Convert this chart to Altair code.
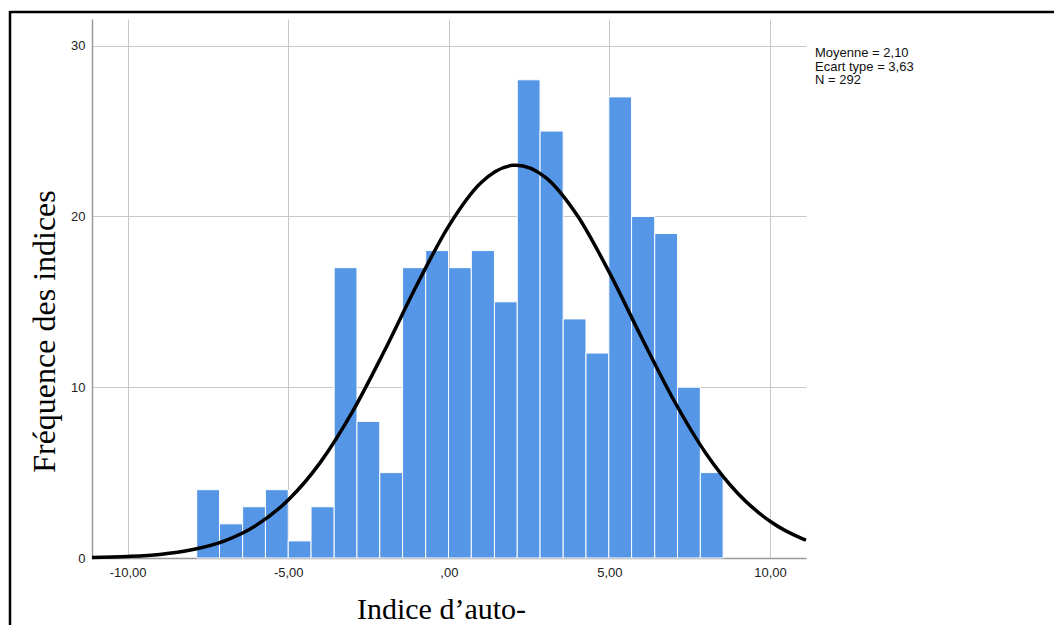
import altair as alt
import pandas as pd

# Histogram bins (left/right edges) and counts
bin_edges = [-7.85, -7.14, -6.42, -5.71, -5.00, -4.29, -3.57, -2.86, -2.15, -1.44,
             -0.72, -0.01, 0.70, 1.42, 2.13, 2.84, 3.56, 4.27, 4.98, 5.69, 6.41,
             7.12, 7.83, 8.54]
counts = [4, 2, 3, 4, 1, 3, 17, 8, 5, 17, 18, 17, 18, 15, 28, 25, 14, 12, 27, 20, 19, 10, 5]

# Normal curve overlay
curve_x = [-11.11, -10, -9, -8, -7, -6, -5, -4, -3, -2, -1, 0, 1, 2, 2.1, 3, 4, 5,
           6, 7, 8, 9, 10, 11, 11.12]
curve_y = [0.03, 0.09, 0.21, 0.48, 0.99, 1.91, 3.40, 5.60, 8.57, 12.15, 15.97, 19.45,
           21.97, 22.99, 23.0, 22.3, 20.05, 16.71, 12.91, 9.25, 6.14, 3.78, 2.15, 1.14, 1.05]

x_tick_values = [-10, -5, 0, 5, 10]
x_tick_labels = ["-10,00", "-5,00", ",00", "5,00", "10,00"]
y_tick_values = [0, 10, 20, 30]

legend_lines = ["Moyenne = 2,10", "Ecart type = 3,63", "N = 292"]
x_title = "Indice d\u2019auto-"
y_title = "Fréquence des indices"

bars_df = pd.DataFrame({
    "start": bin_edges[:-1],
    "end": bin_edges[1:],
    "count": counts,
})
curve_df = pd.DataFrame({"x": curve_x, "y": curve_y})

label_expr = "''"
for v, l in reversed(list(zip(x_tick_values, x_tick_labels))):
    label_expr = f"datum.value == {v} ? '{l}' : ({label_expr})"

x_scale = alt.Scale(domain=[-11.11, 11.12], nice=False, zero=False)
y_scale = alt.Scale(domain=[0, 31.56], nice=False, zero=True)

x_axis = alt.Axis(
    values=x_tick_values, labelExpr=label_expr, ticks=False, grid=True,
    gridColor="#c8c8c8", gridWidth=1, domainColor="#9a9a9a", domainWidth=1.5,
    labelFont="Liberation Sans", labelFontSize=13, labelColor="#222222",
    labelPadding=8, title=x_title, titleFont="Liberation Serif", titleFontSize=30,
    titleFontWeight="normal", titleColor="#000000", titleX=349, titleY=60,
    titleAlign="center", titleBaseline="alphabetic",
)
y_axis = alt.Axis(
    values=y_tick_values, ticks=False, grid=True, gridColor="#c8c8c8", gridWidth=1,
    domainColor="#9a9a9a", domainWidth=1.5, labelFont="Liberation Sans",
    labelFontSize=13, labelColor="#222222", labelPadding=7, format="d",
    title=y_title, titleFont="Liberation Serif", titleFontSize=32,
    titleFontWeight="normal", titleColor="#000000", titleAngle=270,
    titleX=-48, titleY=312, titleAlign="center", titleBaseline="middle",
)

bars = alt.Chart(bars_df).mark_rect(
    color="#5596E6", stroke="#ffffff", strokeWidth=1
).encode(
    x=alt.X("start:Q", scale=x_scale, axis=x_axis),
    x2="end:Q",
    y=alt.Y("count:Q", scale=y_scale, axis=y_axis),
    y2=alt.datum(0),
)

curve = alt.Chart(curve_df).mark_line(
    color="#000000", strokeWidth=3.5, interpolate="monotone"
).encode(
    x=alt.X("x:Q", scale=x_scale),
    y=alt.Y("y:Q", scale=y_scale),
)

one = alt.Data(values=[{"k": 1}])

legend = alt.Chart(one).mark_text(
    align="left", baseline="top", font="Liberation Sans", fontSize=13,
    lineHeight=13.5, color="#111111"
).encode(
    x=alt.value(723), y=alt.value(28), text=alt.value(legend_lines)
)

frame_top = alt.Chart(one).mark_rule(color="#000000", strokeWidth=2.5).encode(
    x=alt.value(-82), x2=alt.value(970), y=alt.value(-7)
)
frame_left = alt.Chart(one).mark_rule(color="#000000", strokeWidth=2.5).encode(
    x=alt.value(-82), y=alt.value(-8), y2=alt.value(620)
)

chart = alt.layer(bars, curve, legend, frame_top, frame_left).properties(
    width=714, height=539,
    padding={"left": 84, "top": 11, "right": 248, "bottom": 67},
    autosize=alt.AutoSizeParams(type="none"),
    background="#ffffff",
).configure_view(stroke=None)

chart.save("out.html", embed_options={"renderer": "svg", "actions": False})
